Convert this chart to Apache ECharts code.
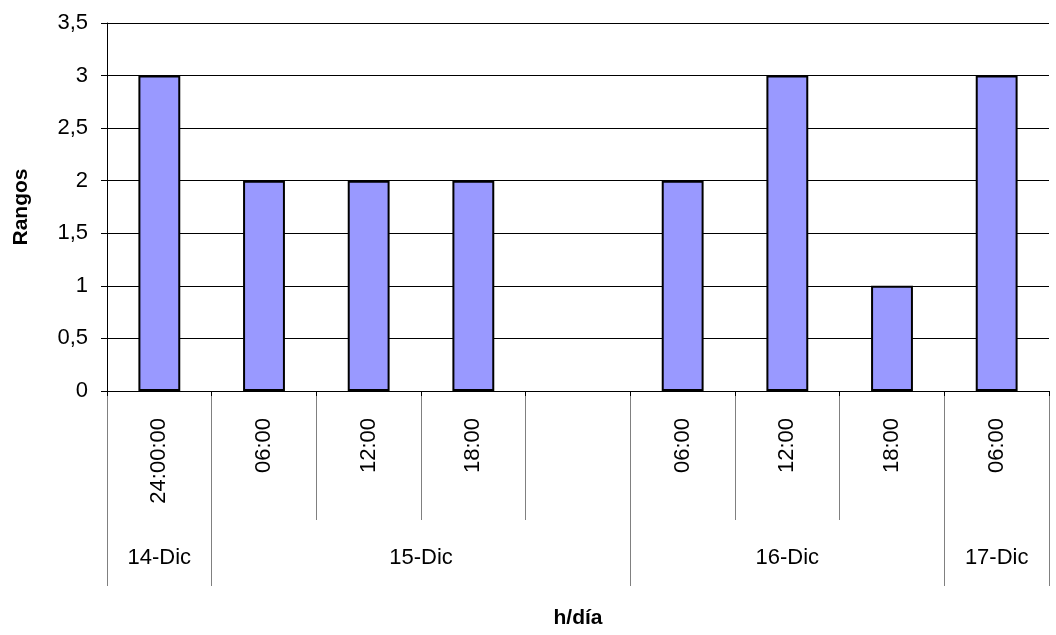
<!DOCTYPE html>
<html>
<head>
<meta charset="utf-8">
<title>Rangos por h/día</title>
<script src="https://cdn.jsdelivr.net/npm/echarts@6/dist/echarts.min.js"></script>
<style>
  html, body { margin: 0; padding: 0; background: #fff; }
  #chart { width: 1056px; height: 635px; }
</style>
</head>
<body>
<div id="chart"></div>
<script>
// Hour of each reading (first level of the category axis)
const hours = ['24:00:00', '06:00', '12:00', '18:00', '', '06:00', '12:00', '18:00', '06:00'];
// Range value for each reading (null = no reading)
const rangos = [3, 2, 2, 2, null, 2, 3, 1, 3];
// Day groups (second level of the category axis) and how many hour slots each spans
const days = ['14-Dic', '15-Dic', '16-Dic', '17-Dic'];
const daySpans = [1, 4, 3, 1];
// Value-axis ticks
const yTicks = { min: 0, max: 3.5, step: 0.5 };

// Group boundaries and centres in slot units
const dayBounds = [0];
daySpans.forEach(s => dayBounds.push(dayBounds[dayBounds.length - 1] + s));
const dayCenters = daySpans.map((s, i) => dayBounds[i] + s / 2);

const FONT = 'Liberation Sans, Arial, sans-serif';
const FS = 22;
const TITLE_FS = 21;
const GREY = '#808080';

const chart = echarts.init(document.getElementById('chart'), null, { renderer: 'canvas' });

chart.setOption({
  animation: false,
  backgroundColor: '#ffffff',
  textStyle: { fontFamily: FONT },
  grid: { left: 107, right: 7, top: 23, bottom: 244, containLabel: false, outerBoundsMode: 'none' },
  xAxis: [
    {
      type: 'category',
      data: hours,
      position: 'bottom',
      boundaryGap: true,
      axisLine: { show: true, lineStyle: { color: '#000', width: 1 } },
      axisTick: { show: true, length: 129, interval: 0, lineStyle: { color: GREY, width: 1 } },
      axisLabel: { interval: 0, rotate: 90, margin: 27, color: '#000', fontSize: FS, fontFamily: FONT },
      splitLine: { show: false }
    },
    {
      type: 'category',
      data: hours,
      position: 'bottom',
      boundaryGap: true,
      axisLine: { show: false },
      axisTick: { show: true, length: 5, interval: 0, lineStyle: { color: '#000', width: 1 } },
      axisLabel: { show: false },
      splitLine: { show: false }
    },
    {
      type: 'value',
      min: 0,
      max: hours.length,
      position: 'bottom',
      offset: 129,
      axisLine: { show: false },
      splitLine: { show: false },
      axisTick: { show: true, length: 66, customValues: dayBounds, lineStyle: { color: GREY, width: 1 } },
      axisLabel: {
        show: true,
        customValues: dayCenters,
        margin: 27,
        color: '#000',
        fontSize: FS,
        fontFamily: FONT,
        formatter: v => {
          const i = dayCenters.indexOf(v);
          return i >= 0 ? days[i] : '';
        }
      },
      name: 'h/día',
      nameLocation: 'middle',
      nameGap: 88,
      nameTextStyle: { color: '#000', fontSize: TITLE_FS, fontWeight: 'bold', fontFamily: FONT }
    }
  ],
  yAxis: {
    type: 'value',
    min: yTicks.min,
    max: yTicks.max,
    interval: yTicks.step,
    axisLine: { show: true, lineStyle: { color: '#000', width: 1 } },
    axisTick: { show: true, length: 6, lineStyle: { color: '#000', width: 1 } },
    axisLabel: {
      margin: 19,
      color: '#000',
      fontSize: FS,
      fontFamily: FONT,
      formatter: v => String(v).replace('.', ',')
    },
    splitLine: { show: true, lineStyle: { color: '#000', width: 1 } },
    name: 'Rangos',
    nameLocation: 'middle',
    nameRotate: 90,
    nameGap: 75,
    nameTextStyle: { color: '#000', fontSize: TITLE_FS, fontWeight: 'bold', fontFamily: FONT }
  },
  series: [
    {
      type: 'bar',
      xAxisIndex: 0,
      data: rangos,
      barWidth: '40%',
      itemStyle: { color: '#9999ff', borderColor: '#000', borderWidth: 2 }
    }
  ]
});
</script>
</body>
</html>
